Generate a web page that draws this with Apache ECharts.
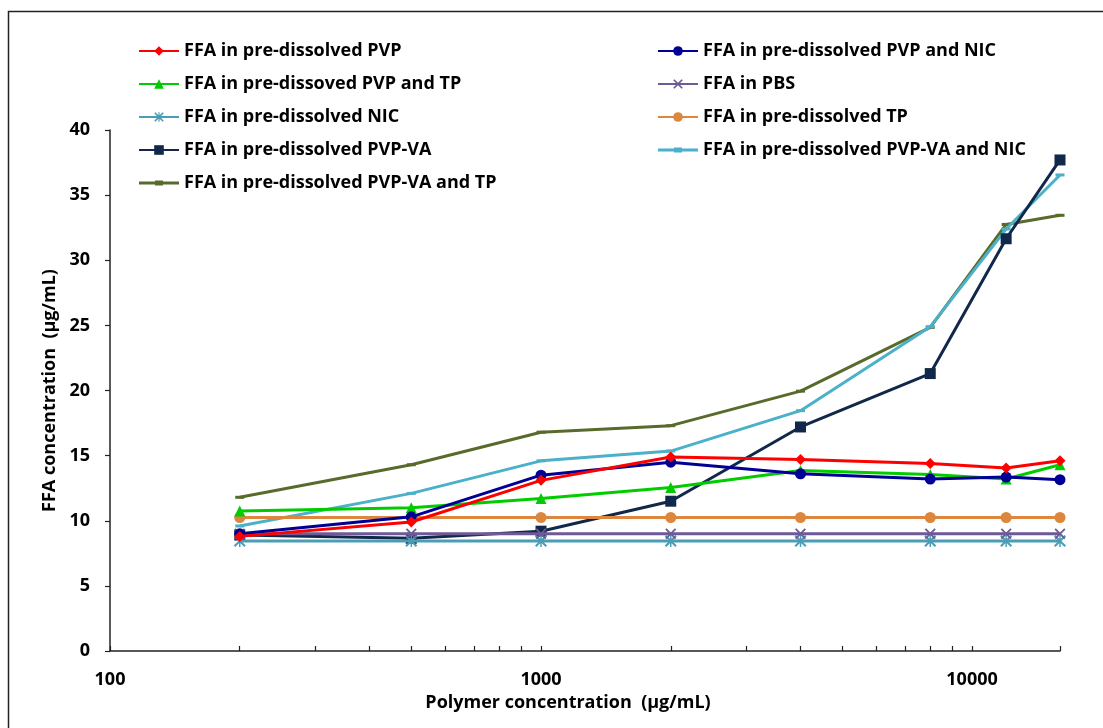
<!DOCTYPE html>
<html>
<head>
<meta charset="utf-8">
<script src="https://cdn.jsdelivr.net/npm/echarts@6/dist/echarts.min.js"></script>
<style>html,body{margin:0;padding:0;background:#fff}#c{width:1103px;height:728px}</style>
</head>
<body>
<div id="c"></div>
<script>
const xValues = [200, 500, 1000, 2000, 4000, 8000, 12000, 16000];
const xLabelValues = [100, 1000, 10000];
const xTickValues = [100,200,300,400,500,600,700,800,900,1000,2000,3000,4000,5000,6000,7000,8000,9000,10000,16000];
const yTicks = [0, 5, 10, 15, 20, 25, 30, 35, 40];

const seriesNames = [
  'FFA in pre-dissolved PVP',
  'FFA in pre-dissolved PVP and NIC',
  'FFA in pre-dissoved PVP and TP',
  'FFA in PBS',
  'FFA in pre-dissolved NIC',
  'FFA in pre-dissolved TP',
  'FFA in pre-dissolved PVP-VA',
  'FFA in pre-dissolved PVP-VA and NIC',
  'FFA in pre-dissolved PVP-VA and TP'
];
const pvp       = [8.8, 9.9, 13.1, 14.9, 14.7, 14.4, 14.05, 14.6];
const pvpNic    = [9.0, 10.3, 13.5, 14.5, 13.6, 13.2, 13.35, 13.15];
const pvpTp     = [10.75, 11.0, 11.7, 12.55, 13.85, 13.55, 13.2, 14.3];
const pbs       = [9.0, 9.0, 9.0, 9.0, 9.0, 9.0, 9.0, 9.0];
const nic       = [8.45, 8.45, 8.45, 8.45, 8.45, 8.45, 8.45, 8.45];
const tp        = [10.25, 10.25, 10.25, 10.25, 10.25, 10.25, 10.25, 10.25];
const pvpva     = [8.9, 8.65, 9.2, 11.5, 17.2, 21.3, 31.65, 37.7];
const pvpvaNic  = [9.6, 12.1, 14.6, 15.35, 18.45, 24.9, 32.4, 36.55];
const pvpvaTp   = [11.8, 14.3, 16.8, 17.3, 19.95, 24.85, 32.75, 33.45];

const seriesData = [pvp, pvpNic, pvpTp, pbs, nic, tp, pvpva, pvpvaNic, pvpvaTp];
const colors = ['#FF0000', '#000094', '#00CC00', '#6E5A96', '#4A9DB4', '#DC863E', '#11284A', '#4BB0CA', '#586A2C'];
const X_PATH = 'path://M0,1.2L1.2,0L5,3.8L8.8,0L10,1.2L6.2,5L10,8.8L8.8,10L5,6.2L1.2,10L0,8.8L3.8,5Z';
const AST_PATH = 'path://M0,1.2L1.2,0L5,3.8L8.8,0L10,1.2L6.2,5L10,8.8L8.8,10L5,6.2L1.2,10L0,8.8L3.8,5Z M4.4,0L5.6,0L5.6,3.6L4.4,3.6Z M4.4,6.4L5.6,6.4L5.6,10L4.4,10Z';
const DASH_PATH = 'path://M0,0L9,0L9,3L0,3Z';
const DASH_LEGEND = 'path://M0,1L40,1L40,4L0,4Z M16,0L24,0L24,5L16,5Z';
const symbols = ['diamond', 'circle', 'triangle', X_PATH, AST_PATH, 'circle', 'rect', DASH_PATH, DASH_PATH];
const symbolSizes = [11, 11, 11, 11, 12, 11, 11, 9, 9];

const FONT = '"Open Sans"';
const chart = echarts.init(document.getElementById('c'), null, {renderer: 'canvas'});

const series = seriesNames.map((name, i) => ({
  name: name,
  type: 'line',
  data: xValues.map((x, j) => [x, seriesData[i][j]]),
  symbol: symbols[i],
  symbolSize: symbolSizes[i],
  symbolKeepAspect: true,
  showAllSymbol: true,
  lineStyle: {color: colors[i], width: 3},
  itemStyle: {color: colors[i]},
  emphasis: {disabled: true},
  animation: false,
  z: 2 + (9 - i)
}));

function legendItem(i) {
  return symbols[i] === DASH_PATH ? {name: seriesNames[i], icon: DASH_LEGEND} : {name: seriesNames[i]};
}
const leftItems = [0, 2, 4, 6, 8].map(legendItem);
const rightItems = [1, 3, 5, 7].map(legendItem);
const legendCommon = {
  orient: 'vertical',
  itemWidth: 40,
  itemHeight: 12,
  itemGap: 13,
  symbolKeepAspect: true,
  textStyle: {fontFamily: FONT, fontWeight: 'bold', fontSize: 18, color: '#000', lineHeight: 20},
  selectedMode: false
};
const axisFont = {fontFamily: FONT, fontWeight: 'bold', fontSize: 18, color: '#000'};

chart.setOption({
  animation: false,
  backgroundColor: '#fff',
  graphic: [{
    type: 'rect',
    shape: {x: 8.5, y: 11.5, width: 1200, height: 800},
    style: {fill: 'none', stroke: '#222', lineWidth: 1.5},
    silent: true
  }],
  legend: [
    Object.assign({data: leftItems, left: 133, top: 36}, legendCommon),
    Object.assign({data: rightItems, left: 652, top: 36}, legendCommon)
  ],
  grid: {left: 110, right: 43, top: 130, bottom: 77, containLabel: false},
  xAxis: {
    type: 'log',
    logBase: 10,
    min: 100,
    max: 16000,
    name: 'Polymer concentration  (\u03bcg/mL)',
    nameLocation: 'middle',
    nameGap: 42,
    nameTextStyle: Object.assign({padding: [0, 34, 0, 0]}, axisFont),
    axisLine: {lineStyle: {color: '#222', width: 1.5}},
    axisTick: {show: true, inside: true, length: 5, customValues: xTickValues, lineStyle: {color: '#222', width: 1.2}},
    axisLabel: Object.assign({customValues: xLabelValues, formatter: v => String(Math.round(v)), margin: 20}, axisFont),
    splitLine: {show: false},
    minorTick: {show: false}
  },
  yAxis: {
    type: 'value',
    min: 0,
    max: 40,
    interval: 5,
    name: 'FFA concentration  (\u03bcg/mL)',
    nameLocation: 'middle',
    nameGap: 50,
    nameTextStyle: axisFont,
    axisLine: {show: true, lineStyle: {color: '#222', width: 1.5}},
    axisTick: {show: true, inside: false, length: 5, lineStyle: {color: '#222', width: 1.2}},
    axisLabel: Object.assign({customValues: yTicks, margin: 20}, axisFont),
    splitLine: {show: false}
  },
  series: series
});
</script>
</body>
</html>
